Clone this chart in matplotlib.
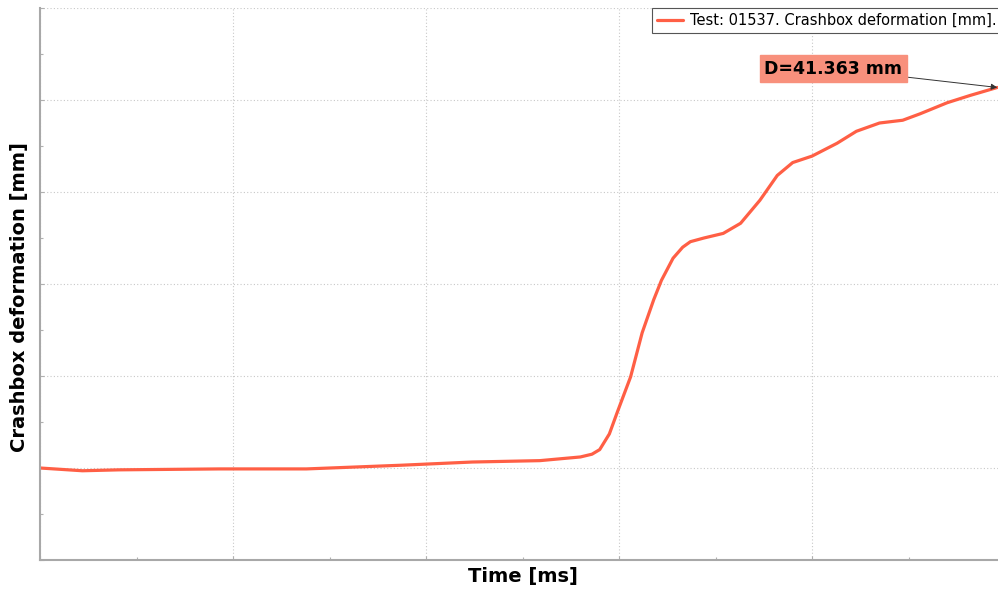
import matplotlib
matplotlib.use('Agg')
import matplotlib.pyplot as plt
from matplotlib.ticker import MultipleLocator

# crashbox deformation vs time
time_ms = [0.0, 2.2, 4.1, 9.3, 13.8, 18.7, 22.4, 25.9, 28.0, 28.6, 29.0, 29.5,
           29.9, 30.6, 31.2, 31.8, 32.2, 32.8, 33.3, 33.7, 34.4, 35.4, 36.3,
           37.3, 38.2, 39.0, 40.0, 41.3, 42.3, 43.5, 44.7, 45.6, 47.0, 48.2,
           49.6]
deform_mm = [0.0, -0.3, -0.2, -0.1, -0.1, 0.3, 0.65, 0.8, 1.2, 1.5, 2.0, 3.7,
             6.0, 9.9, 14.7, 18.3, 20.4, 22.8, 24.0, 24.6, 25.0, 25.5, 26.6,
             29.1, 31.8, 33.2, 33.9, 35.3, 36.6, 37.5, 37.8, 38.5, 39.7, 40.5,
             41.363]
legend_label = 'Test: 01537. Crashbox deformation [mm].'
note_text = 'D=41.363 mm'

W, H = 998, 594
fig = plt.figure(figsize=(W / 100, H / 100), dpi=100)
ax = fig.add_axes([40 / W, (H - 560) / H, (1005 - 40) / W, (560 - 8) / H])

line_color = '#ff5f45'
ax.plot(time_ms, deform_mm, color=line_color, lw=2.3, label=legend_label,
        solid_capstyle='round', solid_joinstyle='round')

ax.set_xlim(0, 50)
ax.set_ylim(-10, 50)
ax.xaxis.set_major_locator(MultipleLocator(10))
ax.xaxis.set_minor_locator(MultipleLocator(5))
ax.yaxis.set_major_locator(MultipleLocator(10))
ax.yaxis.set_minor_locator(MultipleLocator(5))
ax.grid(True, which='major', color='#c8c8c8', linestyle=(0, (1, 2)), lw=0.8)
ax.tick_params(which='both', direction='in', labelleft=False, labelbottom=False,
               color='#b0b0b0', length=3, width=0.8)
ax.tick_params(which='minor', length=2)

for s in ['top', 'right']:
    ax.spines[s].set_visible(False)
for s in ['left', 'bottom']:
    ax.spines[s].set_color('#a8a8a8')
    ax.spines[s].set_linewidth(1.5)

ax.set_xlabel('Time [ms]', fontsize=14, fontweight='bold')
ax.set_ylabel('Crashbox deformation [mm]', fontsize=14, fontweight='bold')
ax.xaxis.set_label_coords(0.5, -0.012, transform=ax.transAxes)
ax.xaxis.label.set_va('top')
ax.yaxis.set_label_coords(20 / W, 0.5, transform=fig.transFigure)
ax.yaxis.label.set_va('center')

leg = ax.legend(loc='upper left', bbox_to_anchor=(652 / W, 1 - 8 / H),
                bbox_transform=fig.transFigure, borderaxespad=0, fontsize=10.5,
                fancybox=False, framealpha=1, handlelength=1.8,
                borderpad=0.35, handletextpad=0.45)
leg.get_frame().set_edgecolor('#555555')
leg.get_frame().set_linewidth(0.8)

ax.annotate(note_text, xy=(time_ms[-1], deform_mm[-1]), xytext=(41.1, 43.4),
            ha='center', va='center', fontsize=12.5, fontweight='bold',
            bbox=dict(boxstyle='square,pad=0.25', fc='#f8907c', ec='#f8907c'),
            arrowprops=dict(arrowstyle='-|>', color='#333333', lw=0.7,
                            mutation_scale=9, shrinkA=0, shrinkB=0),
            annotation_clip=False)

fig.savefig('out.png', dpi=100)
